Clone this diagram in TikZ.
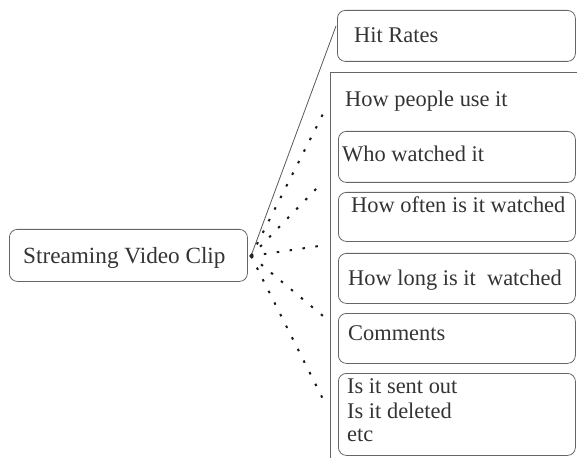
\documentclass[tikz,border=0pt]{standalone}
\usepackage{fontspec}
\setmainfont{Liberation Serif}
\begin{document}
\begin{tikzpicture}[x=1bp,y=-1bp,
  box/.style={draw=black!60, line width=0.8bp, rounded corners=8bp, anchor=north west, inner sep=0pt},
  txt/.style={anchor=base west, inner sep=0pt, text=black!80, font=\fontsize{22.5}{27}\selectfont},
  dotline/.style={draw=black!90, line width=2bp, dash pattern=on 2.5bp off 10.5bp},
  solidline/.style={draw=black!65, line width=0.8bp},
  frame/.style={draw=black!60, line width=0.8bp}]
\useasboundingbox (0,0) rectangle (577,458);
% central node
\node[box, minimum width=238bp, minimum height=52bp] (svc) at (9,229) {};
\node[txt, font=\fontsize{23.3}{28}\selectfont] (svctxt) at (23,264) {Streaming Video Clip};
% hit rates
\node[box, minimum width=238bp, minimum height=51bp] (hit) at (337,10) {};
\node[txt] (hittxt) at (354,43) {Hit Rates};
% big frame
\coordinate (fbl) at (330,460);
\coordinate (ftl) at (330,72);
\coordinate (ftr) at (579,72);
\draw[frame] (fbl) -- (ftl) -- (ftr);
\node[txt] (people) at (345,107) {How people use it};
\node[box, minimum width=237bp, minimum height=51bp] (who) at (338,131) {};
\node[txt] (whotxt) at (342,162) {Who watched it};
\node[box, minimum width=237bp, minimum height=49bp] (often) at (338,192) {};
\node[txt] (oftentxt) at (351,213) {How often is it watched};
\node[box, minimum width=237bp, minimum height=50bp] (long) at (338,253) {};
\node[txt] (longtxt) at (348,286) {How long is it\ \ watched};
\node[box, minimum width=237bp, minimum height=50bp] (comm) at (338,313) {};
\node[txt] (commtxt) at (348,340) {Comments};
\node[box, minimum width=237bp, minimum height=82bp] (sent) at (338,373) {};
\node[txt] (sent1) at (347,393) {Is it sent out};
\node[txt] (sent2) at (347,418) {Is it deleted};
\node[txt] (sent3) at (347,441) {etc};
% connectors
\coordinate (o) at (251,256);
\coordinate (hitend) at (336,26);
\coordinate (e1) at (325,110);
\coordinate (e2) at (318,187);
\coordinate (e3) at (319,246);
\coordinate (e4) at (323,316);
\coordinate (e5) at (325,403);
\draw[solidline] (o) -- (hitend);
\foreach \e in {e1,e2,e3,e4,e5} \draw[dotline] (o) -- (\e);
\fill[black!85] (o) circle (1.8bp);
\end{tikzpicture}
\end{document}
